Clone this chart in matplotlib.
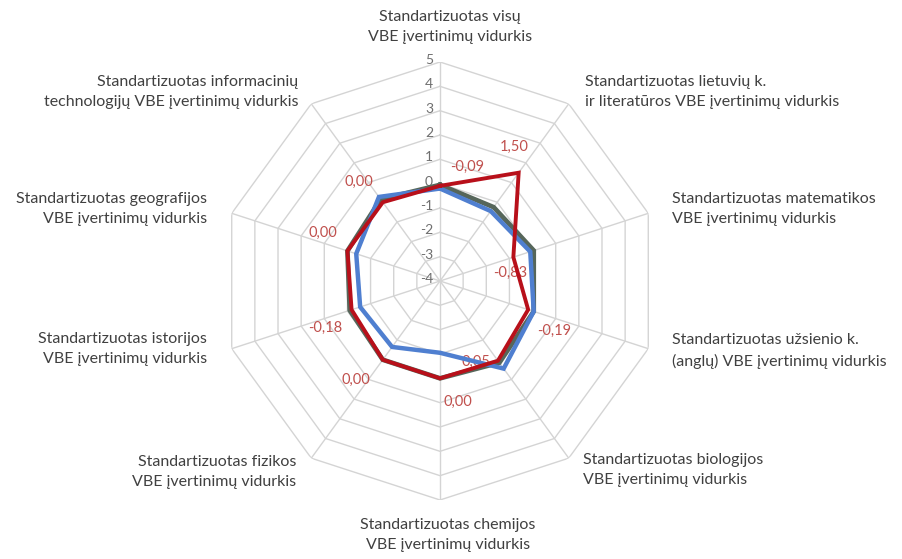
import numpy as np
import matplotlib
matplotlib.use("Agg")
import matplotlib.pyplot as plt

plt.rcParams["font.family"] = ["Lato", "DejaVu Sans"]

# ---------- data ----------
categories = [
    "Standartizuotas visų\nVBE įvertinimų vidurkis",
    "Standartizuotas lietuvių k.\nir literatūros VBE įvertinimų vidurkis",
    "Standartizuotas matematikos\nVBE įvertinimų vidurkis",
    "Standartizuotas užsienio k.\n(anglų) VBE įvertinimų vidurkis",
    "Standartizuotas biologijos\nVBE įvertinimų vidurkis",
    "Standartizuotas chemijos\nVBE įvertinimų vidurkis",
    "Standartizuotas fizikos\nVBE įvertinimų vidurkis",
    "Standartizuotas istorijos\nVBE įvertinimų vidurkis",
    "Standartizuotas geografijos\nVBE įvertinimų vidurkis",
    "Standartizuotas informacinių\ntechnologijų VBE įvertinimų vidurkis",
]
gray_vals = [-0.05, -0.25, 0.05, 0.05, 0.15, 0.00, 0.00, -0.10, 0.00, 0.15]
blue_vals = [-0.20, -0.45, -0.10, 0.05, 0.45, -1.05, -0.65, -0.55, -0.38, 0.27]
red_vals = [-0.09, 1.50, -0.83, -0.19, 0.05, 0.00, 0.00, -0.18, 0.00, 0.00]
red_labels = ["-0,09", "1,50", "-0,83", "-0,19", "0,05", "0,00", "0,00", "-0,18", "0,00", "0,00"]
r_ticks = [5, 4, 3, 2, 1, 0, -1, -2, -3, -4]
r_min, r_max = -4, 5

W, H = 902, 559
fig = plt.figure(figsize=(W / 100, H / 100), dpi=100)
cx, cy, rad = 440, 281, 219
ax = fig.add_axes([(cx - rad) / W, (H - cy - rad) / H, 2 * rad / W, 2 * rad / H],
                  projection="polar")
ax.set_theta_zero_location("N")
ax.set_theta_direction(-1)
ax.set_ylim(r_min, r_max)
ax.grid(False)
ax.set_xticks([])
ax.set_yticks([])
ax.spines["polar"].set_visible(False)
ax.patch.set_alpha(0)

n = len(categories)
angles = np.arange(n) * 2 * np.pi / n
closed = np.append(angles, angles[0])

grid_c = "#d4d4d4"
for v in r_ticks[:-1]:
    ax.plot(closed, [v] * (n + 1), color=grid_c, lw=1, zorder=1)
for t in angles:
    ax.plot([t, t], [r_min, r_max], color=grid_c, lw=1, zorder=1)

# radial tick labels, left of the top spoke
for v in r_ticks:
    ax.annotate(str(v), (0, v), xytext=(-7, 2), textcoords="offset pixels",
                ha="right", va="center", fontsize=10, color="#6f6f6f", zorder=2)

# red data labels (offsets in pixels from each red point)
label_offsets = [(27, 19), (-4, 26), (-3, -16), (26, -21), (-22, -1),
                 (18, -24), (-27, -20), (-26, -18), (-25, 18), (-24, 20)]
for t, v, s, off in zip(angles, red_vals, red_labels, label_offsets):
    ax.annotate(s, (t, v), xytext=off, textcoords="offset pixels",
                ha="center", va="center", fontsize=10.5, color="#c0504d", zorder=3)

def series(vals, color, lw, z):
    ax.plot(closed, vals + vals[:1], color=color, lw=lw, zorder=z,
            solid_joinstyle="miter")

series(gray_vals, "#56665a", 3.4, 4)
series(blue_vals, "#4f7fd0", 3.2, 5)
series(red_vals, "#b8101a", 2.8, 6)

# category labels
lab_pos = [
    (450, 27, "center"), (585, 92, "left"), (672, 209, "left"),
    (672, 351, "left"), (583, 470, "left"), (448, 535, "center"),
    (296, 472, "right"), (207, 349, "right"), (207, 209, "right"),
    (298, 92, "right"),
]
for txt, (x, y, ha) in zip(categories, lab_pos):
    fig.text(x / W, 1 - y / H, txt, ha=ha, va="center", multialignment=ha,
             fontsize=11.5, color="#404040", linespacing=1.5)

fig.savefig("out.png", dpi=100, facecolor="white")
